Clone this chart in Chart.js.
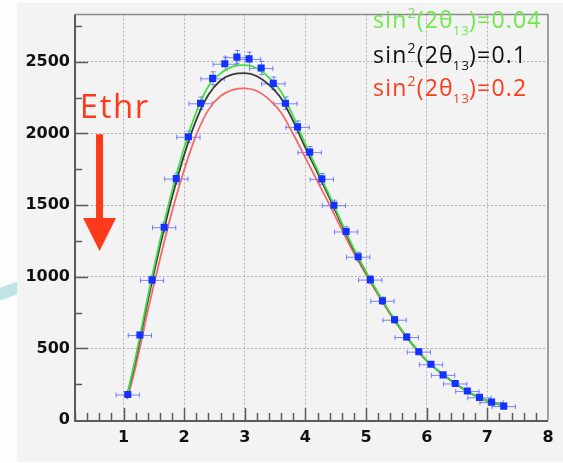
<!DOCTYPE html>
<html><head><meta charset="utf-8">
<script src="https://cdn.jsdelivr.net/npm/chart.js@4/dist/chart.umd.min.js"></script>
<style>html,body{margin:0;padding:0;background:#fdfdfd;}canvas{display:block;}</style>
</head><body>
<canvas id="c" width="563" height="463" style="width:563px;height:463px"></canvas>
<script>
// Measured data points (energy, counts) with errors
const pointX = [1.07,1.27,1.47,1.67,1.87,2.07,2.27,2.47,2.67,2.87,3.07,3.27,3.47,3.67,3.87,4.07,4.27,4.47,4.67,4.87,5.07,5.27,5.47,5.67,5.87,6.07,6.27,6.47,6.67,6.87,7.07,7.27];
const counts = [178,593,978,1346,1685,1977,2211,2385,2487,2533,2521,2457,2350,2211,2046,1870,1683,1499,1316,1140,980,832,700,579,477,389,315,255,202,158,125,97];
const yErr   = [13,24,31,37,41,44,47,49,50,50,50,50,48,47,45,43,41,39,36,34,31,29,26,24,22,20,18,16,14,13,11,10];
const xErrHalf = 0.2;

// Model curves
const curveX = [1.06,1.2,1.4,1.6,1.8,2.0,2.2,2.4,2.6,2.8,3.0,3.2,3.4,3.6,3.8,4.0,4.2,4.4,4.6,4.8,5.0,5.2,5.4,5.6,5.8,6.0,6.2,6.4,6.6,6.8,7.0,7.3];
const curve004 = [175,440,860,1250,1600,1900,2150,2330,2420,2467,2477,2455,2390,2290,2120,1925,1745,1565,1375,1195,1035,885,745,620,510,415,340,275,218,170,133,95];
const curve01  = [170,420,830,1210,1555,1850,2095,2270,2370,2412,2421,2400,2340,2245,2085,1900,1725,1548,1362,1186,1030,882,743,619,510,415,340,275,218,170,133,95];
const curve02  = [145,370,760,1120,1455,1745,1990,2165,2262,2305,2315,2297,2238,2145,1995,1830,1665,1500,1330,1165,1015,872,737,615,507,413,339,275,218,170,133,95];

const legendValues = ['0.04','0.1','0.2'];
const legendColors = ['#6ee84a','#111111','#ff3a1a'];
const xTickLabels = ['1','2','3','4','5','6','7','8'];
const yTickLabels = ['0','500','1000','1500','2000','2500'];

const xy = (xs, ys) => xs.map((x,i)=>({x:x,y:ys[i]}));

const decor = {
  id:'decor',
  beforeDraw(chart){
    const ctx = chart.ctx, W = chart.width, H = chart.height;
    ctx.save();
    ctx.fillStyle = '#fdfdfd'; ctx.fillRect(0,0,W,H);
    ctx.strokeStyle = '#bfe4e7'; ctx.lineWidth = 12;
    ctx.beginPath(); ctx.moveTo(-5,296); ctx.lineTo(20,287); ctx.stroke();
    ctx.fillStyle = '#f3f3f3'; ctx.fillRect(17,3,W-17,H-4);
    ctx.restore();
  },
  beforeDatasetsDraw(chart){
    const ctx = chart.ctx, xs = chart.scales.x, ys = chart.scales.y;
    ctx.save();
    ctx.strokeStyle = 'rgba(80,100,255,0.75)'; ctx.lineWidth = 1;
    pointX.forEach((x,i)=>{
      const px = xs.getPixelForValue(x), py = ys.getPixelForValue(counts[i]);
      const x0 = xs.getPixelForValue(x - xErrHalf), x1 = xs.getPixelForValue(x + xErrHalf);
      const y0 = ys.getPixelForValue(counts[i] - yErr[i]), y1 = ys.getPixelForValue(counts[i] + yErr[i]);
      ctx.beginPath();
      ctx.moveTo(x0,py+0.5); ctx.lineTo(x1,py+0.5);
      ctx.moveTo(x0+0.5,py-2); ctx.lineTo(x0+0.5,py+3);
      ctx.moveTo(x1-0.5,py-2); ctx.lineTo(x1-0.5,py+3);
      ctx.moveTo(px+0.5,y0); ctx.lineTo(px+0.5,y1);
      ctx.moveTo(px-2,y0-0.5); ctx.lineTo(px+3,y0-0.5);
      ctx.moveTo(px-2,y1+0.5); ctx.lineTo(px+3,y1+0.5);
      ctx.stroke();
    });
    ctx.restore();
  },
  afterDraw(chart){
    const ctx = chart.ctx, xs = chart.scales.x, ys = chart.scales.y, a = chart.chartArea;
    ctx.save();
    ctx.strokeStyle = '#8a8a8a'; ctx.lineWidth = 1.5;
    ctx.beginPath(); ctx.moveTo(a.left,a.top); ctx.lineTo(a.right,a.top); ctx.lineTo(a.right,a.bottom); ctx.stroke();
    ctx.strokeStyle = '#5a5a5a'; ctx.lineWidth = 2;
    ctx.beginPath(); ctx.moveTo(a.left,a.top); ctx.lineTo(a.left,a.bottom+1); ctx.lineTo(a.right,a.bottom+1); ctx.stroke();
    ctx.lineWidth = 1.5;
    for (let k=1;k<=39;k++){
      const v = 0.2*k; const px = Math.round(xs.getPixelForValue(v))+0.5;
      const major = Math.abs(v-Math.round(v))<1e-6;
      ctx.beginPath(); ctx.moveTo(px,a.bottom); ctx.lineTo(px,a.bottom-(major?12:7)); ctx.stroke();
    }
    for (let v=250; v<=2750; v+=250){
      const py = Math.round(ys.getPixelForValue(v))+0.5;
      const major = v%500===0;
      ctx.beginPath(); ctx.moveTo(a.left,py); ctx.lineTo(a.left+(major?13:7),py); ctx.stroke();
    }
    // Ethr annotation
    ctx.fillStyle = '#ff3a1a';
    ctx.font = '33px "Open Sans"';
    ctx.letterSpacing = '1.5px';
    ctx.textBaseline = 'alphabetic';
    ctx.fillText('Ethr', xs.getPixelForValue(0.28), ys.getPixelForValue(2105));
    ctx.letterSpacing = '0px';
    const ax = xs.getPixelForValue(0.605);
    ctx.fillRect(ax-3.5, ys.getPixelForValue(1995), 7, ys.getPixelForValue(1400)-ys.getPixelForValue(1995));
    ctx.beginPath();
    ctx.moveTo(ax-16.5, ys.getPixelForValue(1410));
    ctx.lineTo(ax+16.5, ys.getPixelForValue(1410));
    ctx.lineTo(ax, ys.getPixelForValue(1180));
    ctx.closePath(); ctx.fill();
    // legend texts
    const base = [28, 63, 96];
    ctx.letterSpacing = '1.2px';
    legendValues.forEach((val,i)=>{
      let x = 373; const y = base[i];
      ctx.fillStyle = legendColors[i];
      ctx.font = '23px "Open Sans"';
      ctx.fillText('sin', x, y); x += ctx.measureText('sin').width;
      ctx.font = '14px "Open Sans"';
      ctx.fillText('2', x, y-10); x += ctx.measureText('2').width;
      ctx.font = '23px "Open Sans"';
      ctx.fillText('(2θ', x, y); x += ctx.measureText('(2θ').width - 1;
      ctx.font = '13px "Open Sans"';
      ctx.fillText('13', x, y+7); x += ctx.measureText('13').width - 1;
      ctx.font = '23px "Open Sans"';
      ctx.fillText(')=' + val, x, y);
    });
    ctx.restore();
  }
};

new Chart(document.getElementById('c'), {
  type:'scatter',
  data:{ datasets:[
    {label:'data', data:xy(pointX,counts), pointStyle:'rect', pointRadius:5, pointHoverRadius:5,
     backgroundColor:'#1432ff', borderColor:'#1432ff', borderWidth:0, showLine:false, order:0},
    {label:'sin2(2θ13)=0.04', data:xy(curveX,curve004), showLine:true, pointRadius:0, borderColor:'#44dd44', borderWidth:1.8, cubicInterpolationMode:'monotone', order:1},
    {label:'sin2(2θ13)=0.1', data:xy(curveX,curve01), showLine:true, pointRadius:0, borderColor:'#3a3a3a', borderWidth:1.8, cubicInterpolationMode:'monotone', order:2},
    {label:'sin2(2θ13)=0.2', data:xy(curveX,curve02), showLine:true, pointRadius:0, borderColor:'#f26a6a', borderWidth:1.8, cubicInterpolationMode:'monotone', order:3}
  ]},
  options:{
    responsive:false, devicePixelRatio:1, animation:false,
    layout:{padding:{left:0,top:12,right:15,bottom:0}},
    plugins:{legend:{display:false}, tooltip:{enabled:false}},
    scales:{
      x:{type:'linear', min:0.2, max:8,
        afterBuildTicks(s){ s.ticks = xTickLabels.map(t=>({value:Number(t)})); },
        afterFit(s){ s.height = 43; },
        ticks:{font:{family:'DejaVu Sans', weight:'bold', size:16}, color:'#111', padding:8, maxRotation:0,
          callback:(v)=>String(v)},
        grid:{color:'#b0b0b0', lineWidth:1, drawTicks:false},
        border:{display:false, dash:[2,2]}
      },
      y:{type:'linear', min:0, max:2830,
        afterBuildTicks(s){ s.ticks = yTickLabels.map(t=>({value:Number(t)})); },
        afterFit(s){ s.width = 75; },
        ticks:{font:{family:'DejaVu Sans', weight:'bold', size:16}, color:'#111', padding:5,
          callback:(v)=>String(v)},
        grid:{color:'#b0b0b0', lineWidth:1, drawTicks:false},
        border:{display:false, dash:[2,2]}
      }
    }
  },
  plugins:[decor]
});
</script>
</body></html>
